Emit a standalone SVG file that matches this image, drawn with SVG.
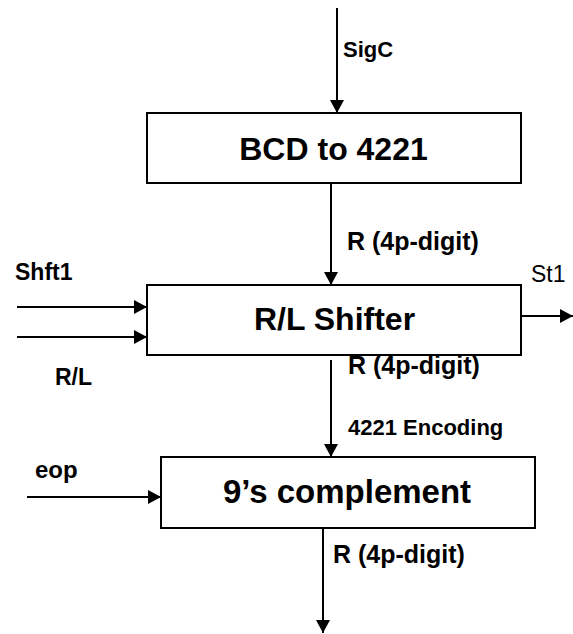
<svg xmlns="http://www.w3.org/2000/svg" width="573" height="634" viewBox="0 0 573 634">
  <style>
    .box { fill: #ffffff; stroke: #000000; stroke-width: 2; }
    .title { font-family: "Liberation Sans", Arial, sans-serif; font-weight: bold; fill: #000000; text-anchor: middle; }
    .lbl { font-family: "Liberation Sans", Arial, sans-serif; font-weight: bold; fill: #000000; }
    .reg { font-family: "Liberation Sans", Arial, sans-serif; fill: #000000; }
    .wire { stroke: #000000; stroke-width: 2; fill: none; marker-end: url(#arrow); }
  </style>
  <defs>
    <marker id="arrow" markerUnits="userSpaceOnUse" markerWidth="14" markerHeight="14" refX="13" refY="7" orient="auto">
      <path d="M0,0 L13,7 L0,14 Z" fill="#000000"/>
    </marker>
  </defs>
  <rect width="573" height="634" fill="#ffffff"/>

  <g id="connectors">
    <line class="wire" x1="337" y1="8" x2="337" y2="113"/>
    <line class="wire" x1="331" y1="183" x2="331" y2="285"/>
    <line class="wire" x1="17" y1="307" x2="147" y2="307"/>
    <line class="wire" x1="17" y1="337" x2="147" y2="337"/>
    <line class="wire" x1="521" y1="316" x2="573" y2="316"/>
    <line class="wire" x1="331" y1="360" x2="331" y2="457"/>
    <line class="wire" x1="27" y1="497" x2="161" y2="497"/>
    <line class="wire" x1="323" y1="528" x2="323" y2="633"/>
  </g>

  <g id="labels">
    <text class="lbl" x="343" y="57" font-size="22">SigC</text>
    <text class="lbl" x="347" y="250" font-size="25">R (4p-digit)</text>
    <text class="lbl" x="15" y="280" font-size="23">Shft1</text>
    <text class="reg" x="531" y="282" font-size="23">St1</text>
    <text class="lbl" x="55" y="385" font-size="23">R/L</text>
    <text class="lbl" x="348" y="374" font-size="25">R (4p-digit)</text>
    <text class="lbl" x="348" y="435" font-size="22">4221 Encoding</text>
    <text class="lbl" x="35" y="478" font-size="24">eop</text>
    <text class="lbl" x="333" y="563" font-size="25">R (4p-digit)</text>
  </g>

  <g id="bcd-to-4221">
    <rect class="box" x="147" y="113" width="374" height="70"/>
    <text class="title" x="333.5" y="160" font-size="32">BCD to 4221</text>
  </g>

  <g id="rl-shifter">
    <rect class="box" x="147" y="285" width="374" height="70"/>
    <text class="title" x="334.5" y="330" font-size="32">R/L Shifter</text>
  </g>

  <g id="nines-complement">
    <rect class="box" x="161" y="457" width="374" height="71"/>
    <text class="title" x="347" y="503" font-size="33">9’s complement</text>
  </g>
</svg>
